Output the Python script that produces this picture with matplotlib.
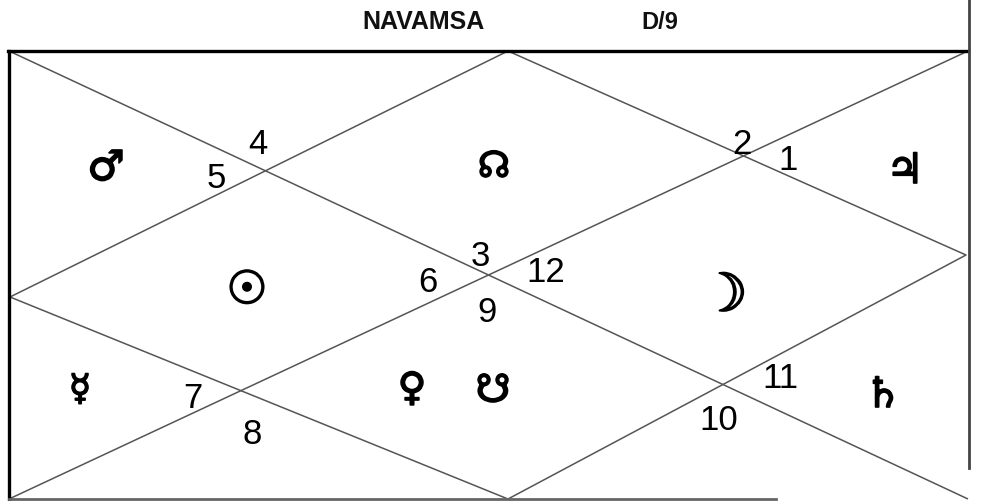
import matplotlib
matplotlib.use("Agg")
import matplotlib.pyplot as plt
import matplotlib.patheffects as pe

W, H = 984, 501

# frame and diamond vertices, pixel space (y grows downward)
LEFT, RIGHT, TOP, BOTTOM = 9, 968, 51, 499
TOP_MID = (508, 51)
LEFT_MID = (10, 297)
RIGHT_MID = (966, 255)
BOTTOM_MID = (508, 499)

title = "NAVAMSA"
subtitle = "D/9"

house_numbers = ["4", "5", "2", "1", "3", "12", "6", "9", "7", "8", "11", "10"]
house_xy = [(258, 145), (216, 178), (742, 145), (788, 160), (480, 256), (546, 272),
            (428, 283), (487, 313), (193, 398), (252, 435), (780, 378), (719, 420)]

# planets: Mars, Rahu, Jupiter, Sun, Moon, Mercury, Venus, Ketu, Saturn
planets = ["\u2642", "\u260A", "\u2643", "\u2609", "\u263D", "\u263F", "\u2640", "\u260B", "\u2644"]
planet_xy = [(106, 168), (494, 167), (905, 171), (247, 291), (724, 296),
             (80, 390), (412, 389), (493, 391), (883, 395)]
planet_size = [30, 26, 30, 33, 38, 26, 28, 28, 30]

fig = plt.figure(figsize=(W / 100, H / 100), dpi=100)
ax = fig.add_axes([0, 0, 1, 1])
ax.set_xlim(0, W)
ax.set_ylim(H, 0)
ax.axis("off")

line_kw = dict(color="#555555", lw=1.1, solid_capstyle="butt")

# diagonals
ax.plot([LEFT, RIGHT], [TOP, BOTTOM], **line_kw)
ax.plot([LEFT, RIGHT], [BOTTOM, TOP], **line_kw)

# inner diamond
dx = [TOP_MID[0], RIGHT_MID[0], BOTTOM_MID[0], LEFT_MID[0], TOP_MID[0]]
dy = [TOP_MID[1], RIGHT_MID[1], BOTTOM_MID[1], LEFT_MID[1], TOP_MID[1]]
ax.plot(dx, dy, **line_kw)

# frame
ax.plot([LEFT - 1, RIGHT], [TOP, TOP], color="black", lw=2.4)
ax.plot([LEFT, LEFT], [TOP, BOTTOM + 2], color="black", lw=2.4)
ax.plot([RIGHT + 1, RIGHT + 1], [0, 468], color="#444444", lw=2)
ax.plot([LEFT, 776], [BOTTOM, BOTTOM], color="#666666", lw=2)

ax.text(423, 22, title, ha="center", va="center", fontsize=18,
        fontweight="bold", family="Liberation Sans", color="#111111")
ax.text(660, 22, subtitle, ha="center", va="center", fontsize=17,
        fontweight="bold", family="Liberation Sans", color="#111111")

for num, (x, y) in zip(house_numbers, house_xy):
    ax.text(x, y, num, ha="center", va="center", fontsize=25,
            family="Liberation Sans", color="black")

bold = [pe.withStroke(linewidth=1.2, foreground="black")]
for sym, (x, y), fs in zip(planets, planet_xy, planet_size):
    ax.text(x, y, sym, ha="center", va="center", fontsize=fs,
            family="DejaVu Sans", color="black", path_effects=bold)

fig.savefig("out.png", dpi=100)
